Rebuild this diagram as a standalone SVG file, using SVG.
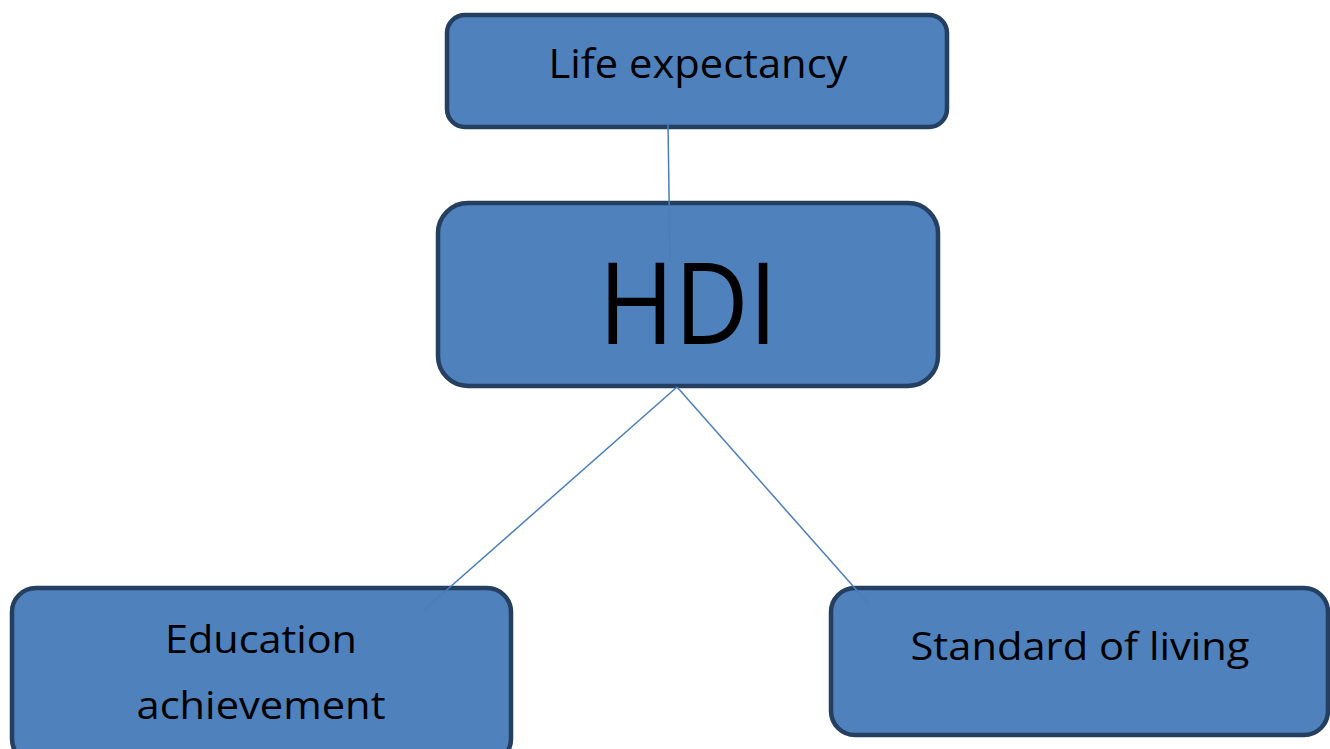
<svg xmlns="http://www.w3.org/2000/svg" width="1330" height="749" viewBox="0 0 1330 749">
<style>
.box{fill:#4F81BD;stroke:#243F60;stroke-width:4.5}
.lbl{font-family:"Open Sans","Noto Sans",sans-serif;fill:#000;text-anchor:middle}
.con{stroke:#4A7EBB;stroke-width:1.5;fill:none}
</style>
<rect width="1330" height="749" fill="#fff"/>
<g id="life">
<rect class="box" x="447" y="15" width="500" height="112" rx="18"/>
<text class="lbl" x="698" y="78" font-size="40" textLength="299" lengthAdjust="spacingAndGlyphs">Life expectancy</text>
</g>
<g id="hdi">
<rect class="box" x="438" y="203" width="500" height="183" rx="30"/>
<text class="lbl" x="688" y="344" font-size="114" textLength="179" lengthAdjust="spacingAndGlyphs">HDI</text>
</g>
<g id="edu">
<rect class="box" x="12" y="588" width="499" height="175" rx="24"/>
<text class="lbl" x="261" y="653" font-size="39" textLength="192" lengthAdjust="spacingAndGlyphs">Education</text>
<text class="lbl" x="261" y="719" font-size="39" textLength="249" lengthAdjust="spacingAndGlyphs">achievement</text>
</g>
<g id="std">
<rect class="box" x="831" y="588" width="497" height="147" rx="24"/>
<text class="lbl" x="1080" y="660" font-size="39" textLength="339" lengthAdjust="spacingAndGlyphs">Standard of living</text>
</g>
<g id="connectors">
<line class="con" x1="668" y1="123" x2="670" y2="262"/>
<line class="con" x1="677" y1="387" x2="424" y2="610"/>
<line class="con" x1="677" y1="387" x2="868" y2="603"/>
</g>
</svg>
